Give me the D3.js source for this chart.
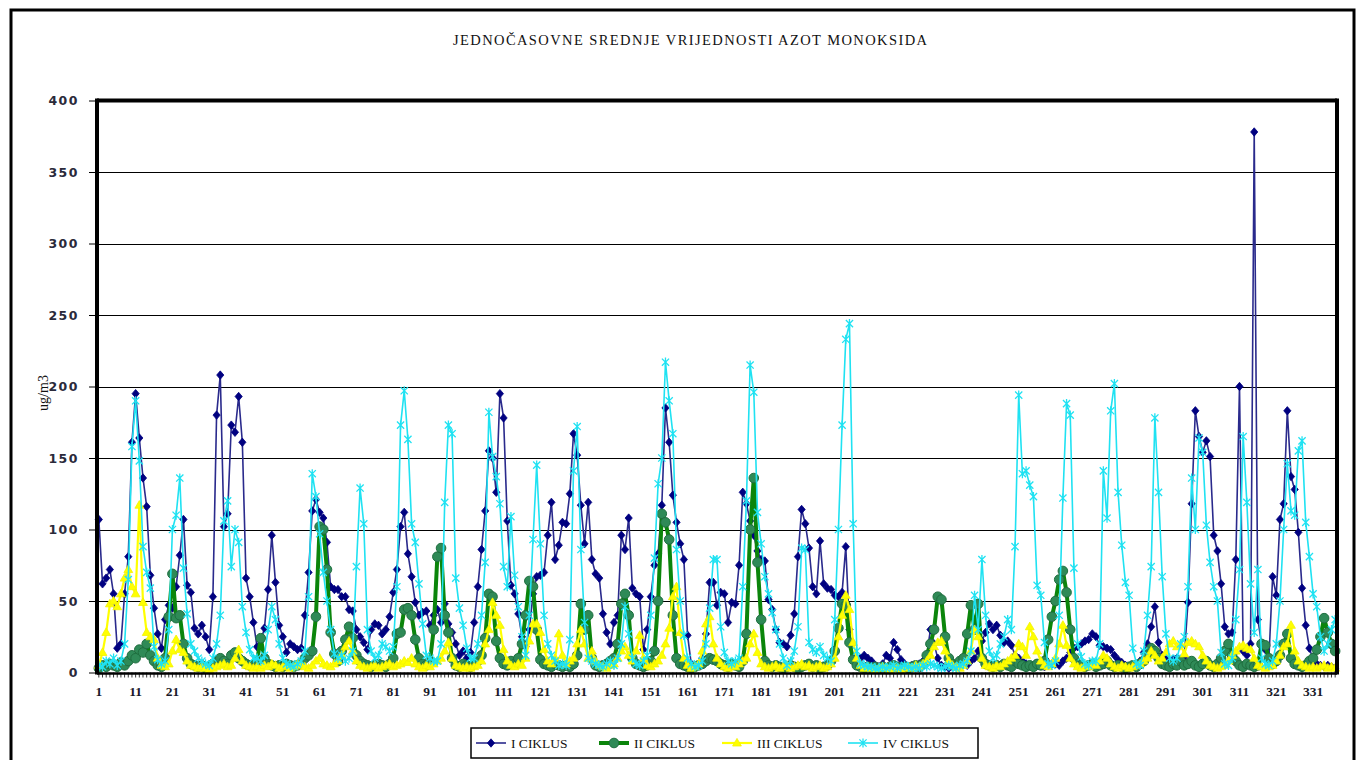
<!DOCTYPE html>
<html>
<head>
<meta charset="utf-8">
<script src="https://cdn.jsdelivr.net/npm/d3@7"></script>
<style>
  html, body { margin: 0; padding: 0; background: #fff; }
  svg { display: block; }
</style>
</head>
<body>
<svg id="chart" width="1363" height="760"></svg>
<script>
// ---------------- DATA ----------------
const chartTitle = "JEDNOČASOVNE SREDNJE VRIJEDNOSTI AZOT MONOKSIDA";
const yAxisTitle = "ug/m3";
const seriesNames = ["I CIKLUS", "II CIKLUS", "III CIKLUS", "IV CIKLUS"];
const yTicks = [0, 50, 100, 150, 200, 250, 300, 350, 400];

const seriesI = [
  107, 62, 66, 72, 55, 17, 20, 55, 81, 161,
  195, 164, 136, 116, 68, 45, 27, 17, 37, 47,
  45, 60, 82, 107, 61, 56, 31, 27, 33, 25,
  16, 53, 180, 208, 102, 111, 173, 168, 193, 161,
  66, 53, 35, 18, 22, 31, 58, 96, 63, 33,
  25, 14, 20, 18, 16, 17, 40, 70, 113, 121,
  112, 108, 91, 60, 58, 58, 53, 53, 44, 43,
  30, 25, 21, 16, 30, 34, 33, 27, 30, 39,
  56, 72, 102, 112, 83, 67, 49, 40, 42, 43,
  33, 40, 44, 35, 48, 34, 28, 20, 12, 15,
  10, 14, 35, 60, 86, 113, 155, 150, 126, 195,
  178, 106, 61, 55, 41, 25, 18, 30, 55, 67,
  68, 70, 96, 119, 79, 89, 105, 104, 125, 167,
  152, 117, 90, 119, 79, 69, 66, 41, 28, 20,
  35, 40, 96, 86, 108, 59, 55, 53, 16, 30,
  53, 75, 83, 117, 185, 161, 124, 105, 90, 79,
  26, 6, 4, 5, 10, 27, 63, 63, 47, 56,
  55, 35, 49, 48, 75, 126, 118, 106, 96, 85,
  79, 78, 51, 44, 30, 21, 20, 18, 26, 41,
  81, 114, 104, 87, 60, 55, 92, 62, 59, 58,
  54, 53, 56, 88, 30, 9, 8, 10, 12, 10,
  8, 5, 4, 6, 12, 10, 21, 16, 9, 6,
  4, 5, 4, 6, 8, 12, 30, 20, 10, 5,
  4, 3, 4, 5, 4, 6, 5, 8, 10, 15,
  22, 28, 34, 30, 33, 26, 21, 22, 19, 12,
  10, 8, 6, 5, 4, 5, 6, 4, 5, 6,
  6, 5, 8, 10, 14, 17, 18, 20, 22, 23,
  27, 25, 19, 18, 17, 16, 12, 9, 7, 5,
  4, 5, 6, 8, 14, 20, 32, 46, 21, 12,
  10, 8, 9, 10, 8, 11, 49, 118, 183, 165,
  154, 162, 151, 96, 85, 62, 32, 27, 28, 79,
  200, 15, 12, 20, 378, 37, 20, 16, 10, 67,
  54, 107, 118, 183, 137, 128, 98, 59, 33, 17,
  9, 6, 5, 4, 5, 4, 3
];

const seriesII = [
  3, 5, 4, 6, 5, 4, 7, 5, 8, 12,
  10, 16, 14, 20, 12, 8, 5, 4, 10, 39,
  69, 38, 40, 20, 10, 6, 5, 4, 5, 3,
  4, 6, 8, 10, 8, 6, 12, 14, 10, 8,
  6, 5, 5, 8, 24, 10, 6, 5, 4, 5,
  4, 6, 5, 4, 5, 6, 10, 12, 15, 39,
  102, 100, 72, 28, 13, 8, 15, 23, 32, 24,
  12, 8, 6, 5, 4, 5, 6, 5, 4, 6,
  10, 27, 28, 44, 45, 40, 23, 10, 6, 5,
  8, 30, 81, 87, 40, 28, 10, 5, 4, 6,
  5, 4, 6, 8, 12, 24, 55, 53, 22, 10,
  6, 5, 8, 6, 10, 20, 40, 64, 60, 30,
  9, 6, 5, 4, 6, 5, 4, 5, 4, 6,
  12, 48, 30, 40, 10, 5, 4, 5, 6, 8,
  10, 20, 48, 55, 40, 10, 6, 5, 4, 5,
  8, 15, 50, 111, 105, 93, 40, 10, 6, 5,
  4, 3, 4, 5, 6, 8, 10, 9, 8, 6,
  5, 4, 6, 5, 4, 8, 27, 100, 136, 77,
  37, 8, 5, 4, 5, 4, 3, 4, 5, 4,
  3, 4, 5, 6, 4, 5, 3, 4, 5, 8,
  15, 31, 48, 47, 21, 9, 5, 4, 3, 4,
  3, 4, 3, 4, 3, 4, 5, 4, 3, 4,
  3, 4, 5, 4, 6, 12, 20, 30, 53, 51,
  25, 10, 6, 5, 8, 10, 27, 47, 30, 48,
  10, 6, 5, 4, 5, 4, 6, 5, 4, 8,
  6, 5, 4, 5, 4, 6, 5, 8, 23, 39,
  50, 65, 71, 56, 30, 10, 6, 5, 4, 5,
  6, 4, 5, 6, 8, 5, 4, 5, 4, 3,
  4, 5, 4, 6, 8, 12, 17, 15, 10, 6,
  5, 4, 6, 5, 8, 5, 6, 8, 5, 4,
  6, 8, 5, 4, 6, 10, 15, 20, 12, 8,
  5, 4, 6, 5, 4, 5, 20, 19, 10, 6,
  8, 12, 20, 27, 10, 6, 5, 4, 5, 8,
  10, 16, 25, 38, 28, 20, 15
];

const seriesIII = [
  5, 14, 28, 48, 50, 46, 55, 66, 72, 60,
  55, 117, 49, 28, 25, 23, 10, 5, 4, 6,
  15, 23, 16, 14, 8, 5, 4, 3, 4, 3,
  2, 3, 4, 5, 6, 4, 5, 10, 16, 8,
  5, 4, 3, 4, 3, 5, 4, 6, 5, 3,
  4, 5, 3, 4, 6, 5, 4, 3, 5, 8,
  10, 6, 5, 4, 6, 8, 12, 18, 22, 15,
  8, 5, 4, 3, 4, 5, 3, 4, 5, 6,
  4, 5, 6, 8, 7, 10, 6, 4, 3, 5,
  4, 6, 8, 10, 15, 21, 10, 5, 4, 3,
  4, 3, 4, 5, 8, 20, 30, 49, 40, 33,
  16, 8, 5, 4, 6, 5, 10, 22, 34, 34,
  28, 16, 8, 6, 10, 27, 12, 6, 8, 10,
  20, 30, 20, 10, 15, 8, 5, 4, 3, 5,
  6, 10, 15, 18, 12, 8, 15, 26, 10, 5,
  4, 6, 8, 12, 20, 31, 53, 60, 28, 10,
  5, 3, 4, 6, 15, 34, 39, 20, 10, 6,
  4, 3, 5, 4, 6, 8, 10, 20, 27, 14,
  6, 4, 3, 4, 5, 3, 4, 5, 3, 4,
  5, 6, 4, 5, 3, 4, 5, 3, 4, 6,
  10, 25, 40, 54, 44, 21, 10, 5, 3, 4,
  3, 2, 3, 4, 3, 2, 4, 3, 2, 3,
  4, 3, 5, 4, 6, 8, 12, 18, 21, 22,
  15, 8, 5, 4, 3, 5, 8, 15, 30, 25,
  10, 5, 4, 3, 5, 4, 6, 8, 10, 12,
  20, 18, 12, 32, 25, 15, 8, 5, 4, 6,
  10, 20, 33, 19, 10, 6, 4, 3, 5, 4,
  6, 5, 8, 12, 10, 6, 4, 3, 5, 4,
  3, 4, 5, 6, 8, 10, 15, 12, 8, 10,
  14, 20, 22, 18, 20, 13, 21, 22, 20, 18,
  12, 8, 5, 4, 3, 4, 5, 8, 12, 15,
  18, 19, 17, 16, 10, 5, 4, 3, 4, 5,
  8, 12, 18, 20, 33, 15, 8, 5, 4, 3,
  4, 3, 4, 5, 3, 4, 3
];

const seriesIV = [
  5, 4, 8, 6, 10, 5, 8, 20, 65, 158,
  190, 148, 88, 70, 59, 18, 9, 6, 8, 30,
  100, 110, 136, 73, 41, 20, 15, 10, 8, 6,
  5, 10, 20, 40, 106, 120, 74, 100, 91, 46,
  28, 16, 10, 10, 8, 12, 30, 46, 37, 20,
  10, 6, 5, 4, 6, 8, 15, 53, 139, 123,
  97, 70, 50, 30, 13, 10, 12, 8, 10, 15,
  74, 129, 104, 30, 15, 10, 12, 20, 18, 15,
  18, 60, 173, 197, 163, 104, 91, 62, 34, 12,
  10, 8, 8, 20, 119, 173, 167, 66, 45, 33,
  17, 10, 10, 20, 40, 77, 182, 151, 137, 118,
  74, 60, 109, 68, 46, 25, 12, 40, 93, 145,
  90, 40, 20, 12, 8, 5, 6, 5, 23, 141,
  172, 86, 35, 10, 8, 6, 5, 4, 6, 8,
  5, 10, 20, 46, 27, 10, 6, 5, 8, 12,
  40, 80, 132, 150, 217, 190, 167, 86, 50, 26,
  10, 6, 4, 5, 8, 20, 45, 79, 79, 32,
  14, 8, 6, 8, 10, 60, 120, 215, 196, 112,
  90, 67, 55, 42, 30, 20, 10, 5, 8, 15,
  32, 87, 86, 21, 16, 14, 18, 12, 10, 8,
  37, 100, 173, 233, 244, 104, 15, 6, 5, 4,
  4, 3, 3, 4, 3, 4, 5, 3, 4, 5,
  4, 3, 4, 3, 5, 4, 6, 5, 4, 3,
  4, 5, 4, 3, 5, 6, 8, 15, 54, 30,
  79, 40, 15, 10, 12, 20, 25, 37, 30, 88,
  194, 139, 141, 131, 123, 61, 54, 21, 6, 5,
  8, 40, 122, 188, 180, 73, 20, 11, 6, 5,
  8, 8, 20, 141, 108, 183, 202, 126, 89, 63,
  54, 17, 6, 5, 15, 40, 74, 178, 126, 67,
  27, 10, 8, 10, 20, 25, 60, 136, 100, 164,
  154, 103, 77, 60, 50, 14, 6, 5, 10, 37,
  72, 165, 119, 62, 28, 72, 10, 6, 5, 8,
  20, 50, 100, 146, 113, 110, 155, 162, 105, 81,
  55, 46, 25, 15, 20, 30, 37
];

const categories = d3.range(1, seriesI.length + 1);
const xTickLabels = categories.filter(d => (d - 1) % 10 === 0);

// ---------------- LAYOUT ----------------
const plot = { left: 97, right: 1337, top: 100.5, bottom: 672.5 };

const svg = d3.select("#chart");

const x = d3.scaleBand().domain(categories).range([plot.left, plot.right]).padding(0);
const y = d3.scaleLinear().domain([0, 400]).range([plot.bottom, plot.top]);
const cx = d => x(d) + x.bandwidth() / 2;

// outer frame
svg.append("rect")
  .attr("x", 11).attr("y", 10).attr("width", 1343).attr("height", 800)
  .attr("fill", "#fff").attr("stroke", "#000").attr("stroke-width", 3);

// title
svg.append("text")
  .attr("x", 690).attr("y", 45)
  .attr("text-anchor", "middle")
  .attr("font-family", "'Liberation Serif', 'DejaVu Serif', serif")
  .attr("font-size", 14.5)
  .attr("textLength", 474)
  .attr("lengthAdjust", "spacing")
  .attr("fill", "#111")
  .text(chartTitle);

// gridlines
svg.append("g").selectAll("line")
  .data(yTicks.filter(v => v > 0 && v < 400))
  .join("line")
  .attr("x1", plot.left).attr("x2", plot.right)
  .attr("y1", d => Math.round(y(d)) + 0.5).attr("y2", d => Math.round(y(d)) + 0.5)
  .attr("stroke", "#000").attr("stroke-width", 1);

// y axis
const yAxis = svg.append("g")
  .attr("transform", `translate(${plot.left},0)`)
  .call(d3.axisLeft(y).tickValues(yTicks).tickSize(8).tickPadding(10).tickFormat(d3.format("d")));
yAxis.select(".domain").remove();
yAxis.selectAll(".tick line").attr("stroke", "#000").attr("stroke-width", 1);
yAxis.selectAll(".tick text")
  .attr("font-family", "'DejaVu Sans', Verdana, sans-serif")
  .attr("font-weight", "bold")
  .attr("font-size", 12.5)
  .attr("letter-spacing", 1.5)
  .attr("fill", "#2a2a3a");

// y axis title
svg.append("text")
  .attr("transform", "translate(48,393) rotate(-90)")
  .attr("text-anchor", "middle")
  .attr("font-family", "'Liberation Serif', 'DejaVu Serif', serif")
  .attr("font-size", 14)
  .attr("fill", "#111")
  .text(yAxisTitle);

// x axis
const xAxis = svg.append("g")
  .attr("transform", `translate(0,${plot.bottom})`)
  .call(d3.axisBottom(x).tickValues(categories).tickSize(5).tickPadding(9)
    .tickFormat(d => xTickLabels.includes(d) ? String(d) : ""));
xAxis.select(".domain").remove();
xAxis.selectAll(".tick line").attr("stroke", "#000").attr("stroke-width", 0.8);
xAxis.selectAll(".tick text")
  .attr("font-family", "'Liberation Serif', 'DejaVu Serif', serif")
  .attr("font-weight", "bold")
  .attr("font-size", 13.5)
  .attr("fill", "#1a1a2a");

// ---------------- SERIES ----------------
const diamond = "M0,-4.2L3.6,0L0,4.2L-3.6,0Z";
const triangle = "M0,-4.6L4.4,3L-4.4,3Z";
const star = "M-3.6,-3.6L3.6,3.6M-3.6,3.6L3.6,-3.6M0,-4.6L0,4.6";

const seriesDefs = [
  { name: seriesNames[0], values: seriesI, line: "#2a2a8c", lw: 1.6, marker: "diamond", mfill: "#000080", mstroke: "#000080" },
  { name: seriesNames[1], values: seriesII, line: "#0b850b", lw: 4, marker: "circle", mfill: "#2f8a57", mstroke: "#1f6e3f" },
  { name: seriesNames[2], values: seriesIII, line: "#ffff00", lw: 2.2, marker: "triangle", mfill: "#ffff00", mstroke: "#f2f200" },
  { name: seriesNames[3], values: seriesIV, line: "#1fe2f2", lw: 1.6, marker: "star", mfill: "none", mstroke: "#1fe2f2" }
];

const lineGen = d3.line().x((d, i) => cx(categories[i])).y(d => y(d));

function drawMarker(sel, def, px, py) {
  if (def.marker === "circle") {
    sel.append("circle").attr("cx", px).attr("cy", py).attr("r", 4.8)
      .attr("fill", def.mfill).attr("stroke", def.mstroke).attr("stroke-width", 1);
  } else {
    const path = def.marker === "diamond" ? diamond : def.marker === "triangle" ? triangle : star;
    sel.append("path").attr("d", path)
      .attr("transform", `translate(${px},${py})`)
      .attr("fill", def.mfill).attr("stroke", def.mstroke)
      .attr("stroke-width", def.marker === "star" ? 1.3 : 0.8);
  }
}

const dataG = svg.append("g");
seriesDefs.forEach(def => {
  const g = dataG.append("g");
  g.append("path").datum(def.values)
    .attr("d", lineGen)
    .attr("fill", "none")
    .attr("stroke", def.line)
    .attr("stroke-width", def.lw)
    .attr("stroke-linejoin", "round");
  const mg = g.append("g");
  def.values.forEach((v, i) => drawMarker(mg, def, cx(categories[i]), y(v)));
});

// plot border (thick)
svg.append("line").attr("x1", plot.left).attr("x2", plot.right)
  .attr("y1", plot.top).attr("y2", plot.top).attr("stroke", "#000").attr("stroke-width", 4);
svg.append("line").attr("x1", plot.right).attr("x2", plot.right)
  .attr("y1", plot.top - 2).attr("y2", plot.bottom + 2).attr("stroke", "#000").attr("stroke-width", 4);
svg.append("line").attr("x1", plot.left).attr("x2", plot.left)
  .attr("y1", plot.top - 2).attr("y2", plot.bottom + 2).attr("stroke", "#000").attr("stroke-width", 4);
svg.append("line").attr("x1", plot.left).attr("x2", plot.right)
  .attr("y1", plot.bottom + 1).attr("y2", plot.bottom + 1).attr("stroke", "#000").attr("stroke-width", 2.5);

// ---------------- LEGEND ----------------
const legend = svg.append("g");
legend.append("rect")
  .attr("x", 471).attr("y", 728).attr("width", 507).attr("height", 30)
  .attr("fill", "#fff").attr("stroke", "#000").attr("stroke-width", 1.5);
const legendX = [476, 599, 722, 848];
seriesDefs.forEach((def, i) => {
  const lx = legendX[i], ly = 743;
  legend.append("line").attr("x1", lx).attr("x2", lx + 30).attr("y1", ly).attr("y2", ly)
    .attr("stroke", def.line).attr("stroke-width", def.lw);
  drawMarker(legend, def, lx + 15, ly);
  legend.append("text")
    .attr("x", lx + 35).attr("y", ly + 4.5)
    .attr("font-family", "'Liberation Serif', 'DejaVu Serif', serif")
    .attr("font-size", 13.5)
    .attr("fill", "#111")
    .text(def.name);
});
</script>
</body>
</html>
